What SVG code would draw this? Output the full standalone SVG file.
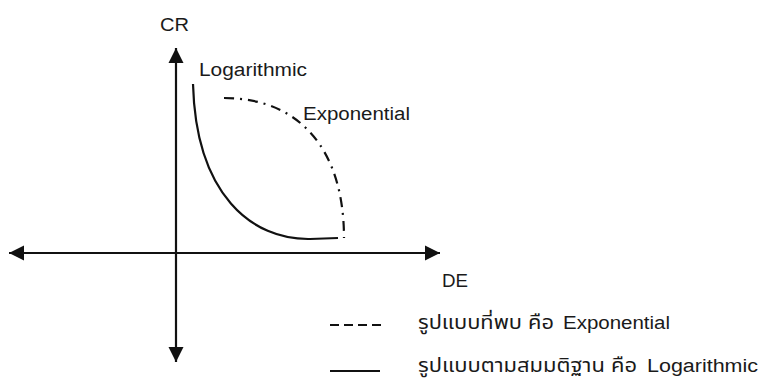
<svg xmlns="http://www.w3.org/2000/svg" width="761" height="380" viewBox="0 0 761 380">
  <style>
    .t { font-family: "Liberation Sans", Arial, "Noto Sans Thai", "Noto Sans", sans-serif; font-size: 18px; fill: #1a1a1a; }
    .th { font-size: 19px; }
    .ax { stroke: #111; stroke-width: 2.2; fill: none; }
    .log { stroke: #111; stroke-width: 2.2; fill: none; }
    .exp { stroke: #111; stroke-width: 2.2; fill: none; stroke-dasharray: 10 6 2 6; }
  </style>
  <defs>
    <marker id="ah" viewBox="0 0 10 10" refX="10" refY="5" markerWidth="7" markerHeight="7" markerUnits="strokeWidth" orient="auto-start-reverse">
      <path d="M0,0 L10,5 L0,10 z" fill="#111"/>
    </marker>
  </defs>
  <rect width="761" height="380" fill="#fff"/>
  <g id="axes">
    <line class="ax" x1="176" y1="362" x2="176" y2="48" marker-start="url(#ah)" marker-end="url(#ah)"/>
    <line class="ax" x1="9" y1="253" x2="440" y2="253" marker-start="url(#ah)" marker-end="url(#ah)"/>
  </g>
  <g id="curves">
    <path id="logarithmic" class="log" d="M193,84 C196,195 252,240 310,239 L338,238"/>
    <path id="exponential" class="exp" d="M224,98 C300,98 344,150 344,238"/>
  </g>
  <g id="labels">
    <text class="t" x="160" y="31" textLength="29" lengthAdjust="spacingAndGlyphs">CR</text>
    <text class="t" x="442" y="287" textLength="26" lengthAdjust="spacingAndGlyphs">DE</text>
    <text class="t" x="199" y="76" textLength="108" lengthAdjust="spacingAndGlyphs">Logarithmic</text>
    <text class="t" x="303" y="120" textLength="107" lengthAdjust="spacingAndGlyphs">Exponential</text>
  </g>
  <g id="legend">
    <line x1="330" y1="325" x2="382" y2="325" stroke="#111" stroke-width="2" stroke-dasharray="9 5"/>
    <text class="t" y="329"><tspan class="th" x="418" textLength="136" lengthAdjust="spacingAndGlyphs">รูปแบบที่พบ คือ</tspan> <tspan x="563" textLength="107" lengthAdjust="spacingAndGlyphs">Exponential</tspan></text>
    <line x1="330" y1="371" x2="380" y2="371" stroke="#111" stroke-width="2"/>
    <text class="t" y="372"><tspan class="th" x="418" textLength="219" lengthAdjust="spacingAndGlyphs">รูปแบบตามสมมติฐาน คือ</tspan> <tspan x="647" textLength="111" lengthAdjust="spacingAndGlyphs">Logarithmic</tspan></text>
  </g>
</svg>
